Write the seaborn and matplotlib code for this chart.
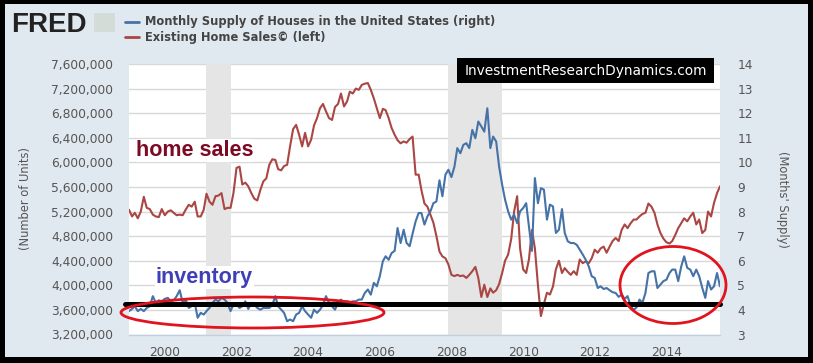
import matplotlib
matplotlib.use('Agg')
import matplotlib.pyplot as plt
import matplotlib.dates as mdates
from matplotlib.lines import Line2D
from matplotlib.patches import Rectangle, Ellipse
from matplotlib.ticker import FuncFormatter
import seaborn as sns
import pandas as pd
import numpy as np

# Existing home sales (millions of units, left axis), monthly Jan 1999 - Jul 2015
home_sales = [
    5.23, 5.12, 5.18, 5.09, 5.20, 5.44, 5.26, 5.24, 5.15, 5.12, 5.11, 5.24,  # 1999
    5.14, 5.20, 5.22, 5.18, 5.14, 5.15, 5.14, 5.23, 5.31, 5.28, 5.36, 5.12,  # 2000
    5.12, 5.23, 5.49, 5.36, 5.31, 5.45, 5.46, 5.50, 5.24, 5.26, 5.26, 5.50,  # 2001
    5.91, 5.93, 5.64, 5.67, 5.61, 5.50, 5.41, 5.38, 5.55, 5.69, 5.74, 5.96,  # 2002
    6.05, 6.04, 5.89, 5.87, 5.94, 5.96, 6.26, 6.54, 6.61, 6.45, 6.26, 6.48,  # 2003
    6.26, 6.37, 6.60, 6.72, 6.88, 6.95, 6.83, 6.72, 6.69, 6.90, 6.95, 7.12,  # 2004
    6.91, 6.99, 7.15, 7.12, 7.20, 7.18, 7.26, 7.28, 7.29, 7.18, 7.04, 6.88,  # 2005
    6.72, 6.87, 6.85, 6.72, 6.56, 6.45, 6.36, 6.31, 6.34, 6.32, 6.38, 6.42,  # 2006
    5.80, 5.80, 5.55, 5.33, 5.28, 5.15, 5.02, 4.80, 4.55, 4.47, 4.44, 4.34,  # 2007
    4.17, 4.15, 4.17, 4.15, 4.16, 4.12, 4.17, 4.23, 4.30, 4.12, 3.81, 4.01,  # 2008
    3.81, 3.95, 3.88, 3.92, 4.02, 4.20, 4.40, 4.50, 4.75, 5.20, 5.45, 4.60,  # 2009
    4.26, 4.20, 4.42, 4.90, 4.60, 4.00, 3.50, 3.70, 3.88, 3.85, 3.98, 4.26,  # 2010
    4.40, 4.20, 4.28, 4.22, 4.17, 4.23, 4.17, 4.42, 4.36, 4.39, 4.36, 4.44,  # 2011
    4.58, 4.53, 4.60, 4.63, 4.53, 4.63, 4.72, 4.77, 4.72, 4.90, 4.99, 4.93,  # 2012
    5.01, 5.07, 5.07, 5.12, 5.16, 5.18, 5.33, 5.28, 5.18, 4.99, 4.85, 4.76,  # 2013
    4.70, 4.68, 4.72, 4.82, 4.93, 5.01, 5.09, 5.04, 5.12, 5.18, 4.99, 5.07,  # 2014
    4.85, 4.90, 5.20, 5.12, 5.34, 5.50, 5.61,                                # 2015
]

# Monthly supply of houses (months, right axis)
months_supply = [
    3.95, 4.04, 4.15, 3.95, 4.04, 3.95, 4.08, 4.15, 4.56, 4.29, 4.39, 4.35,
    4.45, 4.49, 4.35, 4.39, 4.56, 4.80, 4.29, 4.42, 4.08, 4.15, 4.29, 3.68,
    3.88, 3.81, 3.95, 4.08, 4.29, 4.42, 4.35, 4.49, 4.42, 4.29, 3.95, 4.22,
    4.22, 4.08, 4.15, 4.35, 4.04, 4.29, 4.22, 4.08, 4.01, 4.08, 4.08, 4.08,
    4.20, 4.56, 4.15, 4.01, 3.88, 3.54, 3.61, 3.54, 3.81, 3.88, 4.15, 3.95,
    3.81, 3.68, 4.01, 3.88, 4.01, 4.20, 4.56, 4.29, 4.15, 4.01, 4.29, 4.42,
    4.29, 4.35, 4.29, 4.35, 4.35, 4.42, 4.42, 4.69, 4.83, 4.62, 5.10, 4.96,
    5.37, 5.98, 6.18, 6.04, 6.31, 6.40, 7.33, 6.72, 7.26, 6.72, 6.59, 7.10,
    7.60, 7.94, 7.94, 7.47, 7.80, 8.01, 8.34, 8.41, 9.27, 8.62, 9.50, 9.70,
    9.40, 9.83, 10.58, 10.37, 10.71, 10.78, 10.58, 11.32, 10.98, 11.66, 11.46, 11.25,
    12.20, 10.58, 11.05, 10.85, 9.83, 9.09, 8.48, 8.01, 7.67, 7.87, 7.53, 8.01,
    8.14, 8.34, 7.40, 6.40, 9.36, 8.34, 8.95, 8.89, 7.67, 8.28, 8.21, 7.13,
    7.26, 8.10, 7.13, 6.79, 6.72, 6.72, 6.65, 6.45, 6.25, 6.04, 5.77, 5.37,
    5.30, 4.89, 4.96, 4.85, 4.89, 4.80, 4.72, 4.69, 4.53, 4.62, 4.45, 4.56,
    4.15, 4.00, 4.10, 4.42, 4.29, 4.69, 5.50, 5.57, 5.57, 4.89, 5.03, 5.17,
    5.23, 5.50, 5.64, 5.64, 5.17, 5.77, 6.18, 5.71, 5.64, 5.37, 5.64, 5.37,
    4.90, 4.49, 5.17, 4.83, 4.96, 5.50, 4.96,
]

recessions = [('2001-03-01', '2001-11-01'), ('2007-12-01', '2009-06-01')]
left_ticks = list(range(3200000, 7600001, 400000))
right_ticks = list(range(3, 15))
year_ticks = list(range(2000, 2015, 2))
inventory_floor = 3700000

W, H = 813, 363
BG = '#e1e9f0'
BLUE = '#4572a7'
RED = '#aa4643'
TICK_C = '#555555'


def fx(x):
    return x / W


def fy(y):
    return 1 - y / H


dates = pd.date_range('1999-01-01', periods=len(home_sales), freq='MS')
df = pd.DataFrame({'date': dates,
                   'sales': np.array(home_sales) * 1e6,
                   'supply': months_supply})

sns.set_style('white')
plt.rcParams['font.family'] = ['DejaVu Sans']

fig = plt.figure(figsize=(8.13, 3.63), dpi=100, facecolor=BG)
ax = fig.add_axes([fx(129), fy(334.5), (720 - 129) / W, (334.5 - 64) / H])
ax.set_facecolor('white')
ax2 = ax.twinx()

# recession bands
for start, end in recessions:
    ax.axvspan(pd.Timestamp(start), pd.Timestamp(end), color='#e5e5e5', lw=0, zorder=1)

sns.lineplot(data=df, x='date', y='sales', ax=ax, color=RED, linewidth=1.5, zorder=3)
sns.lineplot(data=df, x='date', y='supply', ax=ax2, color=BLUE, linewidth=1.5, zorder=3)

ax.set_xlim(dates[0], dates[-1])
ax.set_ylim(left_ticks[0], left_ticks[-1])
ax2.set_ylim(right_ticks[0], right_ticks[-1])
ax.set_yticks(left_ticks)
ax2.set_yticks(right_ticks)
ax.yaxis.set_major_formatter(FuncFormatter(lambda v, p: f'{v:,.0f}'))
ax.set_xticks([pd.Timestamp(f'{y}-01-01') for y in year_ticks])
ax.xaxis.set_major_formatter(mdates.DateFormatter('%Y'))

ax.set_axisbelow(True)
ax.yaxis.grid(True, color='#d8d8d8', linewidth=1)
ax.xaxis.grid(False)
ax.set_xlabel('')
ax.set_ylabel('')
ax2.set_ylabel('')

for a in (ax, ax2):
    for s in a.spines.values():
        s.set_visible(False)
ax.spines['bottom'].set_visible(True)
ax.spines['bottom'].set_color('#c0d0e0')
ax.spines['bottom'].set_linewidth(1)

ax.tick_params(axis='y', length=0, pad=11.5, labelsize=8.8, labelcolor=TICK_C)
ax2.tick_params(axis='y', length=0, pad=12.5, labelsize=8.8, labelcolor=TICK_C)
ax.tick_params(axis='x', length=4, width=1, color='#c0d0e0', pad=4,
               labelsize=8.8, labelcolor=TICK_C)

# horizontal "floor" line at the inventory level
ax2.add_line(Line2D([-0.006, 1.0], [inventory_floor] * 2, transform=ax.get_yaxis_transform(),
                    color='black', linewidth=3.6, clip_on=False, zorder=10))
ax2.set_ylim(right_ticks[0], right_ticks[-1])


def px_rect(x0, y0, x1, y1, **kw):
    r = Rectangle((fx(x0), fy(y1)), (x1 - x0) / W, (y1 - y0) / H,
                  transform=fig.transFigure, **kw)
    fig.add_artist(r)
    return r


# outer black frame
px_rect(0, 0, W, 4, color='black', lw=0)
px_rect(0, 0, 5, H, color='black', lw=0)
px_rect(808, 0, W, H, color='black', lw=0)
px_rect(0, 357, W, H, color='black', lw=0)

# red ellipses
for cx, cy, w, h in [(252.5, 312.5, 263, 31), (673, 285, 106, 77)]:
    fig.add_artist(Ellipse((fx(cx), fy(cy)), w / W, h / H, transform=fig.transFigure,
                           fill=False, edgecolor='#e0141e', linewidth=2.0, zorder=12))

# annotations
fig.text(fx(195), fy(156), 'home sales', ha='center', va='baseline',
         family='Liberation Sans', weight='bold', size=15.5, color='#7d0a24',
         bbox=dict(facecolor='white', edgecolor='none', pad=0.5), zorder=11)
fig.text(fx(204.5), fy(283), 'inventory', ha='center', va='baseline',
         family='Liberation Sans', weight='bold', size=15.5, color='#3f3fb8',
         bbox=dict(facecolor='white', edgecolor='none', pad=0.5), zorder=11)

# watermark
px_rect(457, 58, 714, 83, color='black', lw=0, zorder=13)
fig.text(fx(585.5), fy(71), 'InvestmentResearchDynamics.com', ha='center', va='center',
         size=9.9, color='white', zorder=14)

# axis titles
fig.text(fx(25), fy(199), '(Number of Units)', rotation=90, ha='center', va='center',
         size=8.3, color=TICK_C)
fig.text(fx(782), fy(199), "(Months' Supply)", rotation=270, ha='center', va='center',
         size=8.3, color=TICK_C)

# header: FRED logo and legend
fig.text(fx(11), fy(32), 'FRED', family='Liberation Sans', weight='bold', size=20,
         color='#222222', va='baseline')
px_rect(94, 13, 115, 32, facecolor='#d3dcd6', lw=0)
for y, c, label in [(22, BLUE, 'Monthly Supply of Houses in the United States (right)'),
                    (37, RED, 'Existing Home Sales\u00a9 (left)')]:
    fig.add_artist(Line2D([fx(125), fx(139)], [fy(y), fy(y)], transform=fig.transFigure,
                          color=c, linewidth=2))
    fig.text(fx(145), fy(y), label, va='center', ha='left', weight='bold',
             size=8.3, color='#444444')

fig.savefig('out.png', dpi=100, facecolor=BG)
